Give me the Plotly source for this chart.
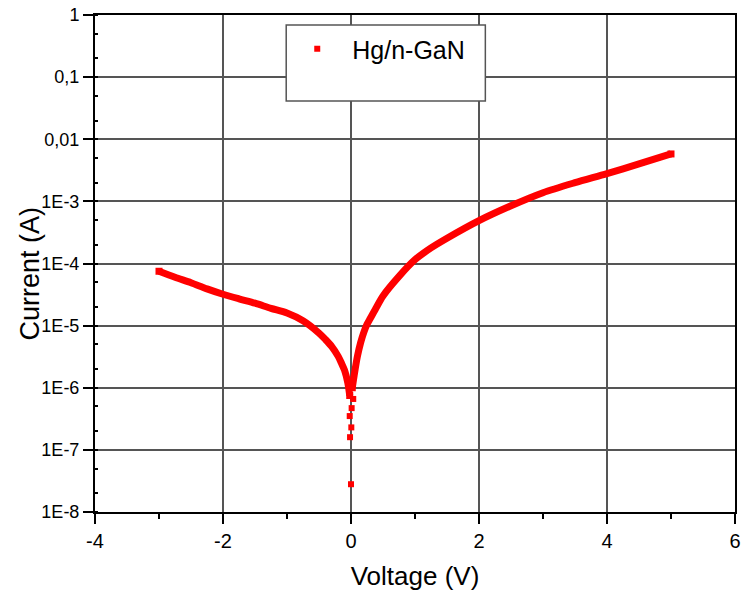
import plotly.graph_objects as go

# Reverse-bias branch (V, I)
rev_v = [-3.0, -2.75, -2.5, -2.25, -2.0, -1.75, -1.5, -1.25, -1.0, -0.75, -0.5, -0.4, -0.3, -0.2, -0.15, -0.1, -0.05, -0.02]
rev_i = [7.5e-5, 6.0e-5, 4.9e-5, 3.9e-5, 3.2e-5, 2.7e-5, 2.3e-5, 1.9e-5, 1.6e-5, 1.2e-5, 7.6e-6, 6.0e-6, 4.6e-6, 3.2e-6, 2.5e-6, 1.9e-6, 1.2e-6, 7.5e-7]

# Forward-bias branch (V, I)
fwd_v = [0.02, 0.05, 0.1, 0.15, 0.2, 0.25, 0.3, 0.4, 0.5, 0.75, 1.0, 1.25, 1.5, 2.0, 2.5, 3.0, 3.5, 4.0, 4.5, 5.0]
fwd_i = [1.0e-6, 1.6e-6, 3.2e-6, 5.3e-6, 7.8e-6, 1.05e-5, 1.3e-5, 2.0e-5, 3.0e-5, 6.2e-5, 1.15e-4, 1.78e-4, 2.55e-4, 4.9e-4, 8.5e-4, 1.38e-3, 2.0e-3, 2.8e-3, 4.0e-3, 5.8e-3]

# Scattered points near zero bias
zero_v = [0.0, -0.015, 0.005, -0.02, 0.01, 0.035]
zero_i = [2.8e-8, 1.6e-7, 2.3e-7, 3.5e-7, 4.7e-7, 6.6e-7]

series_name = "Hg/n-GaN"
x_tickvals = [-4, -2, 0, 2, 4, 6]
x_ticktext = ["-4", "-2", "0", "2", "4", "6"]
y_tickvals = [1e-8, 1e-7, 1e-6, 1e-5, 1e-4, 1e-3, 1e-2, 1e-1, 1]
y_ticktext = ["1E-8", "1E-7", "1E-6", "1E-5", "1E-4", "1E-3", "0,01", "0,1", "1"]

RED = "#ff0000"
fig = go.Figure()
for vx, iy in [(rev_v, rev_i), (fwd_v, fwd_i)]:
    fig.add_trace(go.Scatter(x=vx, y=iy, mode="lines", showlegend=False,
                             line=dict(color=RED, width=7, shape="spline", smoothing=0.8)))
    # squared ends like the original marker-drawn curve
    fig.add_trace(go.Scatter(x=[vx[0], vx[-1]], y=[iy[0], iy[-1]], mode="markers", showlegend=False,
                             marker=dict(symbol="square", size=7, color=RED)))
fig.add_trace(go.Scatter(x=zero_v, y=zero_i, mode="markers", name=series_name,
                         marker=dict(symbol="square", size=6, color=RED)))

L, R, T, B = 95, 1, 15, 87
W, H = 742, 599
pw, ph = W - L - R, H - T - B

def px(x):
    return (x - L) / pw

def py(y):
    return (H - B - y) / ph

fig.add_shape(type="rect", xref="paper", yref="paper",
              x0=px(288), x1=px(489), y0=py(101), y1=py(25),
              line=dict(color="#555555", width=1.5), fillcolor="white", layer="above")

fig.add_annotation(text="Current (A)", xref="paper", yref="paper", x=px(29), y=py(274),
                   xanchor="center", yanchor="middle", textangle=-90, showarrow=False,
                   font=dict(size=27))

fig.update_layout(
    width=W, height=H,
    margin=dict(l=L, r=R, t=T, b=B),
    paper_bgcolor="white", plot_bgcolor="white",
    font=dict(family="Liberation Sans, Arial, sans-serif", color="black"),
    legend=dict(x=px(284), y=py(49), xanchor="left", yanchor="middle",
                bgcolor="rgba(0,0,0,0)", borderwidth=0, itemwidth=60,
                font=dict(size=25, family="Liberation Sans, Arial, sans-serif")),
    xaxis=dict(range=[-4, 6], tickvals=x_tickvals, ticktext=x_ticktext, ticks="outside", ticklen=10, tickwidth=2,
               tickcolor="black", showline=True, linecolor="black", linewidth=2, mirror=True,
               showgrid=True, gridcolor="#555555", gridwidth=1.5, zeroline=False,
               ticklabeloverflow="allow",
               minor=dict(dtick=1, ticks="outside", ticklen=5, tickcolor="black", showgrid=False),
               tickfont=dict(size=20),
               title=dict(text="Voltage (V)", standoff=16, font=dict(size=26))),
    yaxis=dict(type="log", range=[-8, 0], tickvals=y_tickvals, ticktext=y_ticktext,
               ticks="outside", ticklen=10, tickwidth=2, tickcolor="black",
               showline=True, linecolor="black", linewidth=2, mirror=True,
               showgrid=True, gridcolor="#555555", gridwidth=1.5, zeroline=False,
               minor=dict(ticks="inside", ticklen=3, tickcolor="black", showgrid=False),
               tickfont=dict(size=18)),
)

fig.write_html("out.html")
